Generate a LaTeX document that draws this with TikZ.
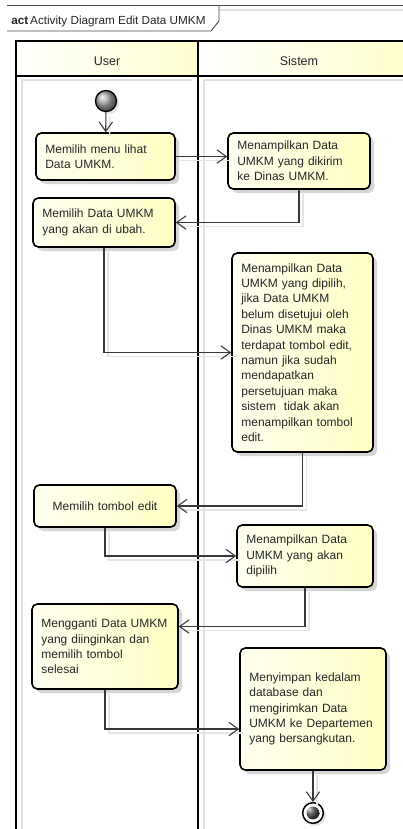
\documentclass[tikz,border=0pt]{standalone}
\usepackage{fontspec}
\setmainfont{Liberation Sans}
\usetikzlibrary{arrows.meta,shadows}
\definecolor{inkgray}{HTML}{262626}
\definecolor{paleyellow}{HTML}{FFFFC4}
\definecolor{creamy}{HTML}{FFFFF0}
\tikzset{
  actbox/.style={draw=black, line width=1.2pt, rounded corners=4pt,
    left color=creamy, right color=paleyellow, text=inkgray,
    drop shadow={shadow xshift=3pt, shadow yshift=-3pt, fill=black!20, opacity=0.8},
    inner xsep=7pt, inner ysep=2pt, align=left, font=\fontsize{9}{11.55}\selectfont},
  flow/.style={draw=black!78, line width=0.8pt,
    -{Straight Barb[length=7pt,width=10pt,line width=0.8pt]},
    preaction={draw=black!10, line width=1pt, -, transform canvas={shift={(4,4)}}}},
  lane/.style={draw=black, line width=1.5pt},
  laneshade/.style={draw=black!12, line width=1.6pt},
  header/.style={left color=white, right color=paleyellow!85},
  startnode/.style={circle, draw=black, line width=1pt, minimum size=15.75pt,
    inner sep=0pt, ball color=gray!65},
  endnode/.style={circle, draw=black, line width=1.1pt, minimum size=15.5pt,
    inner sep=0pt, fill=white,
    path picture={\shade[ball color=gray!45!black] (path picture bounding box.center) circle (4.8pt);}}
}
\begin{document}
\begin{tikzpicture}[x=0.75pt, y=-0.75pt]
  \useasboundingbox (0,0) rectangle (403,829);
  \fill[white] (0,0) rectangle (403,829);

  % diagram frame with its name tab
  \draw[black!12, line width=1.2pt] (219,10) -- (404,10);
  \draw[black!70, line width=0.7pt] (7,5.7) -- (404,5.7);
  \draw[black!70, line width=0.7pt] (7,31) -- (211,31) -- (219,21) -- (219,5.7);
  \node[anchor=base west, inner sep=0pt, text=inkgray, font=\fontsize{8.8}{11}\selectfont]
    (title) at (11,24) {\textbf{act}\,Activity Diagram Edit Data UMKM};

  % swimlane headers
  \shade[header] (16,41) rectangle (198,76);
  \shade[header] (198,41) rectangle (404,76);
  \node[text=inkgray, font=\fontsize{9.4}{11}\selectfont] (userlane) at (107,61) {User};
  \node[text=inkgray, font=\fontsize{9.4}{11}\selectfont] (sistemlane) at (299,61) {Sistem};

  % soft inner shading of the lanes
  \draw[laneshade] (22,80) -- (22,830);
  \draw[laneshade] (204,80) -- (204,830);
  \draw[laneshade] (22,80) -- (192,80);
  \draw[laneshade] (204,80) -- (404,80);

  % lane borders
  \draw[lane] (16,830) -- (16,41) -- (404,41);
  \draw[lane] (16,76) -- (404,76);
  \draw[lane] (198,41) -- (198,830);

  % activities of the user
  \node[actbox, minimum width=104.25pt, minimum height=35.25pt, text width=90.25pt]
    (a1) at (105.5,156.5) {Memilih menu lihat\\Data UMKM.};
  \node[actbox, minimum width=106.5pt, minimum height=36.75pt, text width=92.5pt]
    (a2) at (104,222.5) {Memilih Data UMKM\\yang akan di ubah.};
  \node[actbox, minimum width=106.5pt, minimum height=31.5pt, text width=92.5pt, align=center]
    (a3) at (105,506) {Memilih tombol edit};
  \node[actbox, minimum width=109.5pt, minimum height=63.75pt, text width=95.5pt]
    (a4) at (105,646.5) {Mengganti Data UMKM\\yang diinginkan dan\\memilih tombol\\selesai};

  % activities of the system
  \node[actbox, minimum width=106.5pt, minimum height=42pt, text width=92.5pt]
    (s1) at (299,161) {Menampilkan Data\\UMKM yang dikirim\\ke Dinas UMKM.};
  \node[actbox, minimum width=105.75pt, minimum height=149.25pt, text width=91.75pt]
    (s2) at (302.5,352.5) {Menampilkan Data\\UMKM yang dipilih,\\jika Data UMKM\\belum disetujui oleh\\Dinas UMKM maka\\terdapat tombol edit,\\namun jika sudah\\mendapatkan\\persetujuan maka\\sistem\ \ tidak akan\\menampilkan tombol\\edit.};
  \node[actbox, minimum width=102pt, minimum height=46.5pt, text width=88pt]
    (s3) at (305,556) {Menampilkan Data\\UMKM yang akan\\dipilih};
  \node[actbox, minimum width=109.5pt, minimum height=91.5pt, text width=95.5pt]
    (s4) at (313,709) {Menyimpan kedalam\\database dan\\mengirimkan Data\\UMKM ke Departemen\\yang bersangkutan.};

  % initial and final nodes
  \node[startnode, drop shadow={shadow xshift=2pt, shadow yshift=-2pt, fill=black!20}]
    (start) at (106,101) {};
  \node[endnode, drop shadow={shadow xshift=2pt, shadow yshift=-2pt, fill=black!20}]
    (stop) at (313,813) {};

  % control flow
  \draw[flow] (start) -- (a1);
  \draw[flow] (a1.east) -- (a1.east -| s1.west);
  \draw[flow] (s1.south) |- (a2.east);
  \draw[flow] (a2.south) |- (s2.west);
  \draw[flow] (s2.south) |- (a3.east);
  \draw[flow] (a3.south) |- (s3.west);
  \draw[flow] (s3.south) |- ([yshift=15pt]a4.east);
  \draw[flow] (a4.south) |- ([yshift=-15pt]s4.west);
  \draw[flow] (s4.south) -- (stop);
\end{tikzpicture}
\end{document}
